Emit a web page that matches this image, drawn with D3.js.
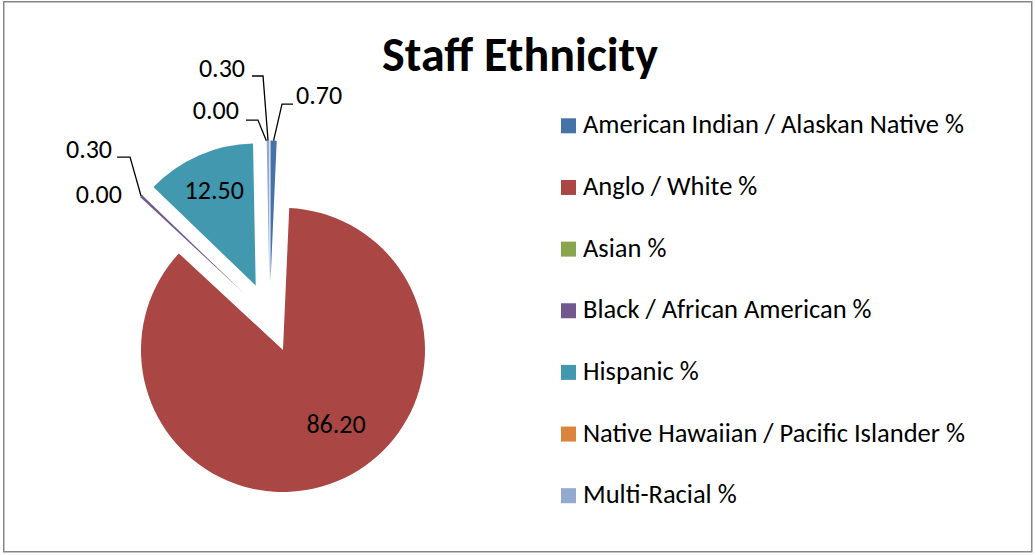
<!DOCTYPE html>
<html>
<head>
<meta charset="utf-8">
<script src="https://cdn.jsdelivr.net/npm/d3@7"></script>
<style>
  html, body { margin: 0; padding: 0; background: #ffffff; }
  svg { display: block; }
  text { font-family: Carlito, Lato, "Open Sans", sans-serif; fill: #000; }
</style>
</head>
<body>
<svg id="chart" width="1036" height="555"></svg>
<script>
// Staff ethnicity breakdown (percent of staff)
const categories = [
  "American Indian / Alaskan Native %",
  "Anglo / White %",
  "Asian %",
  "Black / African American %",
  "Hispanic %",
  "Native Hawaiian / Pacific Islander %",
  "Multi-Racial %"
];
const values = [0.70, 86.20, 0.00, 0.30, 12.50, 0.00, 0.30];
const colors = ["#4672A8", "#AA4643", "#89A54E", "#71588F", "#4198AF", "#DB843D", "#93A9CF"];
const title = "Staff Ethnicity";

const svg = d3.select("#chart");

// chart frame
svg.append("rect")
  .attr("x", 3.75).attr("y", 1.75)
  .attr("width", 1028).attr("height", 550)
  .attr("fill", "#fff")
  .attr("stroke", "#868686")
  .attr("stroke-width", 1.5);

svg.append("text")
  .attr("x", 520).attr("y", 70.5)
  .attr("text-anchor", "middle")
  .attr("font-weight", "bold")
  .attr("font-size", 48)
  .text(title);

// pie geometry
const cx = 269.7, cy = 317.6, R = 142, explode = 35;
const fmt = d3.format(".2f");
const labelSize = 26;

const pie = d3.pie().sort(null).value(d => d.value);
const arcs = pie(categories.map((c, i) => ({ name: c, value: values[i], color: colors[i] })));
const arc = d3.arc().innerRadius(0).outerRadius(R);

const polar = (r, a) => [r * Math.sin(a), -r * Math.cos(a)];
const mid = d => (d.startAngle + d.endAngle) / 2;

const g = svg.append("g").attr("transform", `translate(${cx},${cy})`);

// every slice is pulled out along its bisector
arcs.forEach(d => {
  const [ox, oy] = polar(explode, mid(d));
  d.ox = ox; d.oy = oy;
});

g.selectAll("path.slice")
  .data(arcs)
  .join("path")
  .attr("class", "slice")
  .attr("transform", d => `translate(${d.ox},${d.oy})`)
  .attr("d", arc)
  .attr("fill", d => d.data.color);

// label placement per slice: inside labels use a radius fraction and angle,
// outside labels use a leader (elbow offset from the rim, then a short tail)
const deg = Math.PI / 180;
const labelLayout = [
  { kind: "out", elbow: [8.4, -36.6], tail: 11, gap: 3, dy: -0.5 },
  { kind: "in", frac: 0.645, angle: 144.6 * deg, dy: 8.5 },
  { kind: "free", dx: -18, dy: 5.4 },
  { kind: "out", elbow: [-11, -39], tail: -13, gap: 5, dy: 0.5 },
  { kind: "in", frac: 0.73, angle: null, dy: 8.5 },
  { kind: "out", elbow: [-8.4, -20.6], tail: -12, gap: 7, dy: -1 },
  { kind: "out", elbow: [-5, -64.6], tail: -11, gap: 7, dy: 1 }
];

const lbl = g.append("g");
arcs.forEach((d, i) => {
  const L = labelLayout[i];
  const text = fmt(d.data.value);
  const rim = polar(R, mid(d));
  const rx = d.ox + rim[0], ry = d.oy + rim[1];
  if (L.kind === "in") {
    const a = L.angle === null ? mid(d) : L.angle;
    const p = polar(L.frac * R, a);
    lbl.append("text")
      .attr("x", d.ox + p[0]).attr("y", d.oy + p[1] + L.dy)
      .attr("text-anchor", "middle")
      .attr("font-size", labelSize)
      .text(text);
  } else if (L.kind === "out") {
    const ex = rx + L.elbow[0], ey = ry + L.elbow[1];
    const tx = ex + L.tail;
    lbl.append("path")
      .attr("d", `M${rx},${ry}L${ex},${ey}L${tx},${ey}`)
      .attr("fill", "none")
      .attr("stroke", "#000")
      .attr("stroke-width", 1.3);
    lbl.append("text")
      .attr("x", L.tail > 0 ? tx + L.gap : tx - L.gap)
      .attr("y", ey + L.dy)
      .attr("text-anchor", L.tail > 0 ? "start" : "end")
      .attr("font-size", labelSize)
      .text(text);
  } else {
    lbl.append("text")
      .attr("x", rx + L.dx).attr("y", ry + L.dy)
      .attr("text-anchor", "end")
      .attr("font-size", labelSize)
      .text(text);
  }
});

// legend
const legend = svg.append("g").attr("transform", "translate(561,118.3)");
const rowStep = 61.65;
const items = legend.selectAll("g")
  .data(arcs)
  .join("g")
  .attr("transform", (d, i) => `translate(0,${i * rowStep})`);
items.append("rect")
  .attr("width", 15).attr("height", 15)
  .attr("fill", d => d.data.color);
items.append("text")
  .attr("x", 22).attr("y", 15)
  .attr("font-size", 26.5)
  .text(d => d.data.name);
</script>
</body>
</html>
